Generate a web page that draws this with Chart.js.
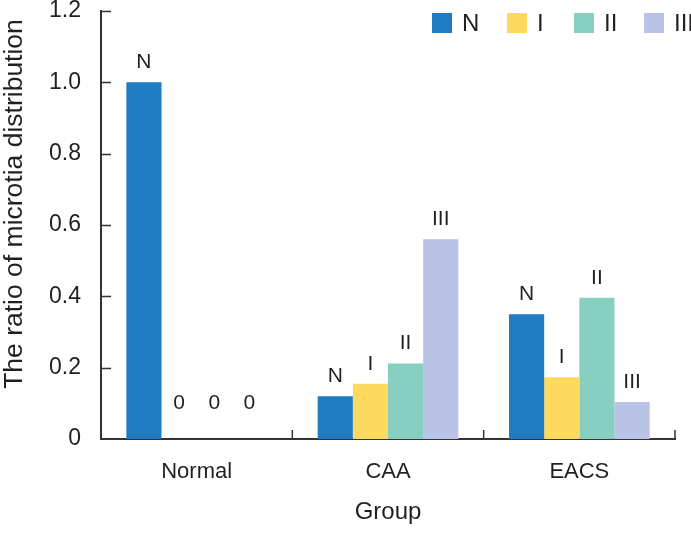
<!DOCTYPE html>
<html>
<head>
<meta charset="utf-8">
<script src="https://cdn.jsdelivr.net/npm/chart.js@4/dist/chart.umd.min.js"></script>
<style>
  html, body { margin: 0; padding: 0; background: #ffffff; }
  #wrap { width: 691px; height: 533px; position: relative; }
</style>
</head>
<body>
<div id="wrap"><canvas id="c" width="691" height="533"></canvas></div>
<script>
const categories = ["Normal", "CAA", "EACS"];
const seriesNames = ["N", "I", "II", "III"];
const valuesN = [1.0, 0.12, 0.35];
const valuesI = [0, 0.155, 0.173];
const valuesII = [0, 0.212, 0.396];
const valuesIII = [0, 0.56, 0.104];
const seriesColors = ["#1f7bc2", "#fdd95e", "#87cfc1", "#b8c3e5"];
const yTicks = [0, 0.2, 0.4, 0.6, 0.8, 1.0, 1.2];
const yTitle = "The ratio of microtia distribution";
const xTitle = "Group";

const FONT = "'Liberation Sans', Arial, Helvetica, sans-serif";
const INK = "#231f20";
const AXIS = "#333333";

const seriesValues = [valuesN, valuesI, valuesII, valuesIII];

const barLabelPlugin = {
  id: 'barLabels',
  afterDatasetsDraw(chart) {
    const ctx = chart.ctx;
    ctx.save();
    ctx.fillStyle = INK;
    ctx.font = "21px " + FONT;
    ctx.textAlign = 'center';
    ctx.textBaseline = 'middle';
    chart.data.datasets.forEach((ds, di) => {
      const meta = chart.getDatasetMeta(di);
      meta.data.forEach((el, i) => {
        const v = ds.data[i];
        const txt = v === 0 ? "0" : ds.label;
        const off = v === 0 ? 36 : 20;
        ctx.fillText(txt, el.x, el.y - off);
      });
    });
    ctx.restore();
  }
};

const axisTicksPlugin = {
  id: 'axisTicks',
  afterDraw(chart) {
    const ctx = chart.ctx;
    const ys = chart.scales.y;
    const xs = chart.scales.x;
    const area = chart.chartArea;
    ctx.save();
    ctx.strokeStyle = AXIS;
    ctx.lineWidth = 1.5;
    ctx.beginPath();
    yTicks.forEach(t => {
      if (t === 0) return;
      const y = Math.round(ys.getPixelForValue(t)) + 0.5;
      ctx.moveTo(area.left, y);
      ctx.lineTo(area.left + 10, y);
    });
    const n = categories.length;
    for (let i = 0; i < n; i++) {
      const x = (xs.getPixelForValue(i) + (i < n - 1 ? xs.getPixelForValue(i + 1) : 2 * xs.getPixelForValue(i) - xs.getPixelForValue(i - 1))) / 2;
      ctx.moveTo(x, area.bottom);
      ctx.lineTo(x, area.bottom - 9);
    }
    ctx.stroke();
    // y axis title
    ctx.save();
    ctx.translate(22, (ys.getPixelForValue(yTicks[yTicks.length - 1]) + ys.getPixelForValue(0)) / 2 - 21);
    ctx.rotate(-Math.PI / 2);
    ctx.font = "26.5px " + FONT;
    ctx.fillStyle = INK;
    ctx.textAlign = 'center';
    ctx.textBaseline = 'alphabetic';
    ctx.fillText(yTitle, 0, 0);
    ctx.restore();
    // legend
    const lx = [432, 507, 574, 644];
    ctx.font = "24px " + FONT;
    ctx.textBaseline = 'middle';
    ctx.textAlign = 'left';
    seriesNames.forEach((nm, i) => {
      ctx.fillStyle = seriesColors[i];
      ctx.fillRect(lx[i], 13, 20, 20);
      ctx.fillStyle = INK;
      ctx.fillText(nm, lx[i] + 30, 24);
    });
    ctx.restore();
  }
};

new Chart(document.getElementById('c'), {
  type: 'bar',
  data: {
    labels: categories,
    datasets: seriesNames.map((nm, i) => ({
      label: nm,
      data: seriesValues[i],
      backgroundColor: seriesColors[i],
      borderWidth: 0,
      categoryPercentage: 0.735,
      barPercentage: 1.0
    }))
  },
  options: {
    responsive: false,
    animation: false,
    devicePixelRatio: 1,
    layout: { padding: { top: 11, right: 16, left: 0, bottom: 0 } },
    plugins: {
      legend: { display: false },
      tooltip: { enabled: false }
    },
    scales: {
      x: {
        grid: { display: false, drawTicks: false },
        border: { display: true, color: AXIS, width: 2 },
        ticks: { color: INK, font: { size: 22, family: FONT }, padding: 20 },
        title: { display: true, text: xTitle, color: INK, font: { size: 24, family: FONT }, padding: { top: 0, bottom: 6 } },
        afterFit(s) { s.height = 94; s.paddingLeft = 0; s.paddingRight = 0; }
      },
      y: {
        min: 0, max: 1.2,
        afterBuildTicks(s) { s.ticks = yTicks.map(v => ({ value: v })); },
        grid: { display: false, drawTicks: false },
        border: { display: true, color: AXIS, width: 2 },
        ticks: {
          color: INK, font: { size: 23, family: FONT }, padding: 20,
          callback: v => v === 0 ? "0" : Number(v).toFixed(1)
        },
        title: { display: false, text: yTitle },
        afterFit(s) { s.width = 101; s.paddingTop = 0; s.paddingBottom = 0; }
      }
    }
  },
  plugins: [barLabelPlugin, axisTicksPlugin]
});
</script>
</body>
</html>
